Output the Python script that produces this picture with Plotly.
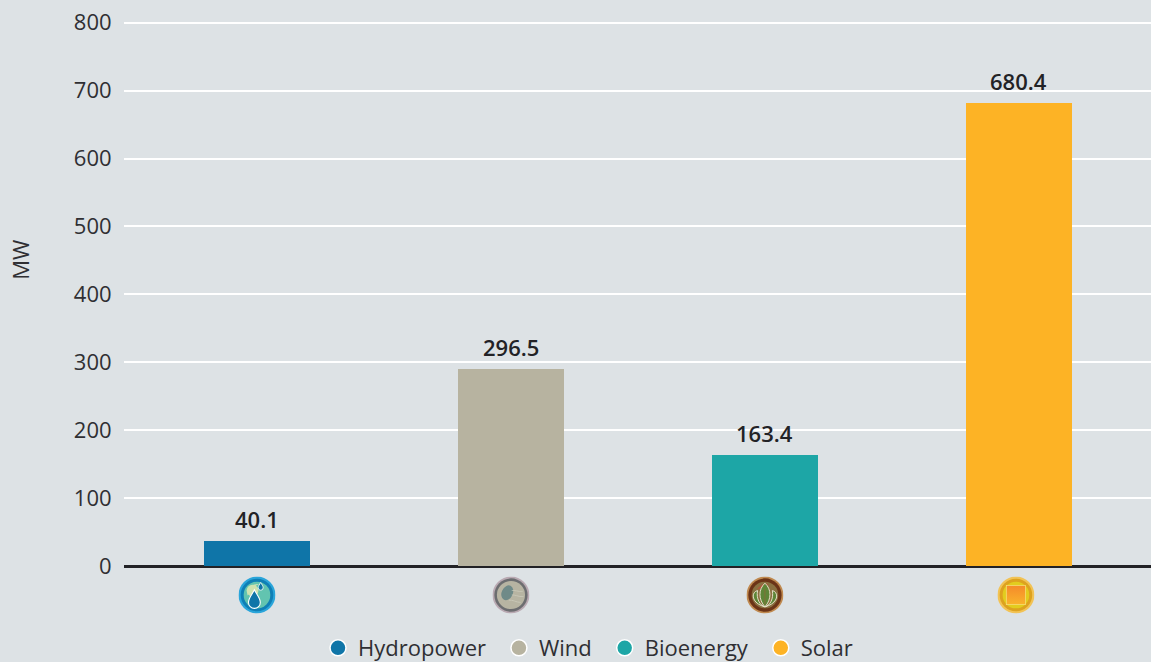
import base64
import plotly.graph_objects as go

categories = ["Hydropower", "Wind", "Bioenergy", "Solar"]
value_labels = ["40.1", "296.5", "163.4", "680.4"]
# Bar heights as drawn in the picture (they differ slightly from the printed labels)
bar_heights = [36.8, 290.5, 163.4, 682]
colors = ["#0F75A8", "#B7B3A0", "#1DA6A6", "#FDB325"]
y_ticks = [0, 100, 200, 300, 400, 500, 600, 700, 800]
icon_nudge_px = [0, 0, 0, -3]

BG = "#DDE2E5"
TXT = "#2F2F33"
FONT = "Open Sans"
Y_TOP = 804
PLOT_H = 0.67875 * Y_TOP
MARGIN_T = 566 - PLOT_H

DROP = "M0,-26 C7,-12 16,-4 16,8 A16,16 0 0 1 -16,8 C-16,-4 -7,-12 0,-26 Z"
icons = [
    f'''<circle cx="50" cy="50" r="50" fill="#2AA5DA"/><circle cx="50" cy="50" r="44" fill="#0F7FB5"/>
    <circle cx="50" cy="50" r="36" fill="#62C4B0"/><path d="M24,52 A30,30 0 0 1 56,20 C44,24 30,36 24,52Z" fill="#D6E4B4"/>
    <circle cx="38" cy="38" r="16" fill="#CFE3B0"/>
    <g transform="translate(43,62)"><path d="{DROP}" fill="#0F75A8" stroke="#fff" stroke-width="3"/></g>
    <g transform="translate(60,27) scale(.42)"><path d="{DROP}" fill="#0F75A8" stroke="#fff" stroke-width="5"/></g>''',
    '''<circle cx="50" cy="50" r="50" fill="#B9A9B2"/><circle cx="50" cy="50" r="45" fill="#6C6D70"/>
    <circle cx="50" cy="50" r="38" fill="#B7B4A2"/>
    <ellipse cx="40" cy="44" rx="15" ry="21" transform="rotate(25 40 44)" fill="#6F8A88"/>
    <path d="M52,38 C60,36 70,42 82,40 M52,50 C60,48 70,56 84,54 M44,64 C54,62 64,70 76,70" stroke="#D3D2C4" stroke-width="1.6" fill="none"/>''',
    '''<circle cx="50" cy="50" r="50" fill="#C08A50"/><circle cx="50" cy="50" r="45" fill="#6B3417"/>
    <circle cx="50" cy="50" r="36" fill="#8A7040"/><path d="M28,36 A30,30 0 0 1 60,20 L46,30Z" fill="#B0553A"/>
    <path d="M30,38 C26,60 36,78 50,82 C64,78 74,60 70,38 C88,42 88,72 50,82 C12,72 12,42 30,38Z" fill="#5E8537" stroke="#F2EBD8" stroke-width="2.4"/>
    <path d="M50,18 C68,34 68,62 50,82 C32,62 32,34 50,18Z" fill="#5E8537" stroke="#F2EBD8" stroke-width="2.4"/>
    <path d="M50,34 V76" stroke="#B0553A" stroke-width="1.2"/>''',
    '''<circle cx="50" cy="50" r="50" fill="#F2C355"/><circle cx="50" cy="50" r="44" fill="#DDA21F"/>
    <circle cx="50" cy="50" r="36" fill="#E2CC1E"/>
    <defs><linearGradient id="g" x1="0" y1="0" x2="0" y2="1"><stop offset="0" stop-color="#F58A2A"/><stop offset="1" stop-color="#F9B32C"/></linearGradient></defs>
    <rect x="24" y="24" width="52" height="52" fill="url(#g)" stroke="#F6E27A" stroke-width="2"/>''',
]


def uri(body):
    svg = f'<svg xmlns="http://www.w3.org/2000/svg" viewBox="0 0 100 100">{body}</svg>'
    return "data:image/svg+xml;base64," + base64.b64encode(svg.encode()).decode()


fig = go.Figure()
for cat, h, col in zip(categories, bar_heights, colors):
    fig.add_trace(go.Bar(
        x=[cat], y=[h], width=0.417, marker=dict(color=col, line=dict(width=0)),
        showlegend=False, hoverinfo="skip"))
n = len(categories)
for i, (cat, col) in enumerate(zip(categories, colors)):
    fig.add_trace(go.Scatter(
        x=[None], y=[None], mode="markers",
        name=cat + ("\u00a0\u200a" if i < n - 1 else ""),
        marker=dict(color=col, size=16, line=dict(color="white", width=1.5))))

images = [dict(source=uri(b), xref="x", yref="paper", x=i + icon_nudge_px[i] / 254, y=-29 / PLOT_H,
               sizex=37 / 254, sizey=37 / PLOT_H,
               xanchor="center", yanchor="middle", sizing="contain", layer="above")
          for i, b in enumerate(icons)]

annotations = [dict(text=lab, x=cat, y=h, xref="x", yref="y", yshift=22, showarrow=False,
                    xanchor="center", yanchor="middle",
                    font=dict(family=FONT, size=22, color="#222226", weight=600))
               for cat, h, lab in zip(categories, bar_heights, value_labels)]
annotations.append(dict(text="MW", xref="paper", yref="paper", x=-104 / 1027, y=(566 - 260) / PLOT_H,
                        xanchor="center", yanchor="middle", textangle=-90, showarrow=False,
                        font=dict(family=FONT, size=22, color=TXT)))

fig.update_layout(
    width=1151, height=662, autosize=False,
    paper_bgcolor=BG, plot_bgcolor=BG,
    margin=dict(l=124, r=0, t=MARGIN_T, b=96),
    barmode="overlay", bargap=0,
    font=dict(family=FONT, color=TXT),
    images=images,
    annotations=annotations,
    xaxis=dict(type="category", categoryorder="array", categoryarray=categories,
               range=[-0.5236, 3.52], showticklabels=False, showgrid=False, ticks="",
               zeroline=False, showline=False, fixedrange=True),
    yaxis=dict(range=[0, Y_TOP], tickvals=y_ticks, showgrid=True, gridcolor="#FFFFFF", gridwidth=1.5,
               zeroline=True, zerolinecolor="#222226", zerolinewidth=2.5,
               showline=False, ticks="outside", ticklen=7, tickcolor="rgba(0,0,0,0)",
               tickfont=dict(family=FONT, size=22, color=TXT), fixedrange=True),
    legend=dict(orientation="h", x=(588 - 124) / 1027, xanchor="center",
                yref="container", y=1 - 648 / 662, yanchor="middle",
                bgcolor="rgba(0,0,0,0)", font=dict(family=FONT, size=22, color=TXT),
                itemclick=False, itemdoubleclick=False),
)
fig.write_html("out.html", config={"displayModeBar": False},
               post_script="document.body.style.margin='0';")
